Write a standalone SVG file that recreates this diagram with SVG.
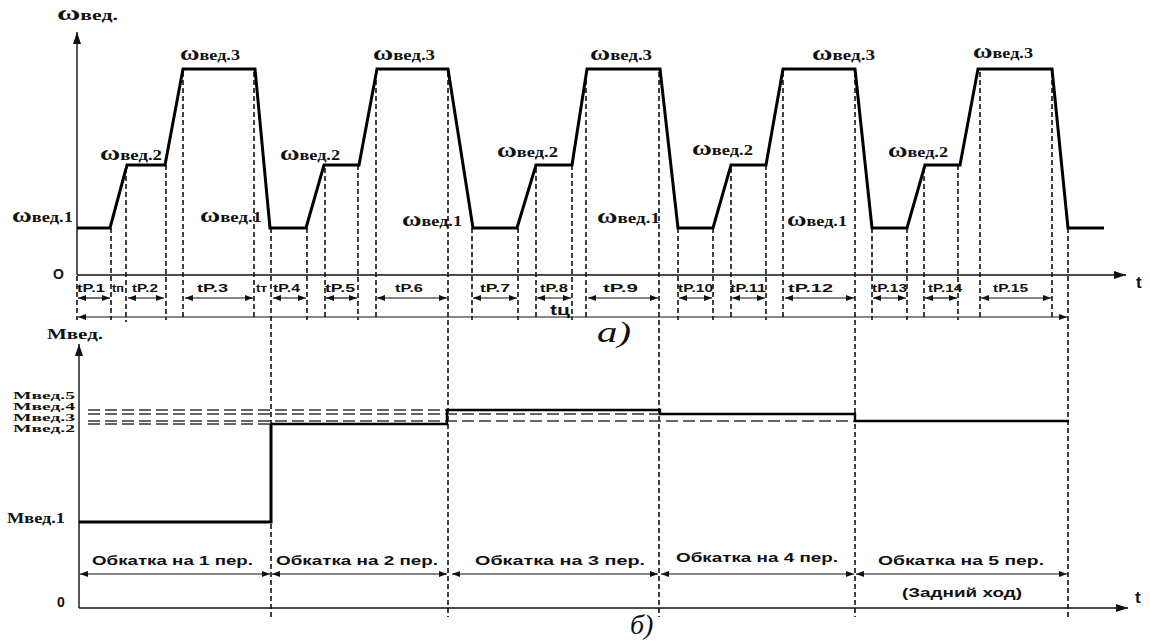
<svg xmlns="http://www.w3.org/2000/svg" width="1150" height="644" viewBox="0 0 1150 644">
<defs>
<marker id="ah" viewBox="0 0 8 6" refX="8" refY="3" markerWidth="8" markerHeight="6" markerUnits="userSpaceOnUse" orient="auto-start-reverse"><path d="M0,0 L8,3 L0,6 z" fill="#111"/></marker>
<marker id="ax" viewBox="0 0 12 8" refX="12" refY="4" markerWidth="12" markerHeight="8" markerUnits="userSpaceOnUse" orient="auto"><path d="M0,0 L12,4 L0,8 z" fill="#111"/></marker>
</defs>
<style>
.axis{stroke:#111;stroke-width:1.4;fill:none}
.curve{stroke:#000;stroke-width:3;fill:none;stroke-linejoin:miter}
.mc{stroke:#000;stroke-width:2.4;fill:none}
.vd{stroke:#111;stroke-width:1.6;stroke-dasharray:5 3;fill:none}
.hd{stroke:#333;stroke-width:1.3;stroke-dasharray:12 5;fill:none}
.dim{stroke:#111;stroke-width:1.2;fill:none;marker-start:url(#ah);marker-end:url(#ah)}
.w{font-family:"Liberation Serif","DejaVu Serif",serif;font-weight:bold;fill:#111}
.s{font-family:"Liberation Sans","DejaVu Sans",sans-serif;font-weight:bold;fill:#111}
.it{font-family:"Liberation Serif","DejaVu Serif",serif;font-style:italic;fill:#111}
</style>

<g id="axes">
<line class="axis" x1="77" y1="275" x2="77" y2="32" marker-end="url(#ax)"/>
<line class="axis" x1="77" y1="275" x2="1126" y2="275" marker-end="url(#ax)"/>
<line class="axis" x1="79" y1="608" x2="79" y2="344" marker-end="url(#ax)"/>
<line class="axis" x1="79" y1="608" x2="1128" y2="608" marker-end="url(#ax)"/>
</g>

<g id="connectors">
<g id="dashed-verticals">
<line class="vd" x1="77" y1="276" x2="77" y2="320"/>
<line class="vd" x1="111" y1="228" x2="111" y2="320"/>
<line class="vd" x1="126" y1="168" x2="126" y2="322"/>
<line class="vd" x1="166" y1="165" x2="166" y2="320"/>
<line class="vd" x1="183" y1="72" x2="183" y2="320"/>
<line class="vd" x1="254" y1="72" x2="254" y2="320"/>
<line class="vd" x1="271" y1="228" x2="271" y2="617"/>
<line class="vd" x1="307" y1="228" x2="307" y2="320"/>
<line class="vd" x1="325" y1="168" x2="325" y2="320"/>
<line class="vd" x1="358" y1="165" x2="358" y2="320"/>
<line class="vd" x1="376" y1="72" x2="376" y2="320"/>
<line class="vd" x1="448" y1="72" x2="448" y2="617"/>
<line class="vd" x1="472" y1="228" x2="472" y2="320"/>
<line class="vd" x1="518" y1="228" x2="518" y2="320"/>
<line class="vd" x1="536" y1="168" x2="536" y2="320"/>
<line class="vd" x1="572" y1="165" x2="572" y2="320"/>
<line class="vd" x1="586" y1="72" x2="586" y2="320"/>
<line class="vd" x1="659" y1="72" x2="659" y2="617"/>
<line class="vd" x1="678" y1="228" x2="678" y2="320"/>
<line class="vd" x1="713" y1="228" x2="713" y2="320"/>
<line class="vd" x1="731" y1="168" x2="731" y2="320"/>
<line class="vd" x1="766" y1="165" x2="766" y2="320"/>
<line class="vd" x1="783" y1="72" x2="783" y2="320"/>
<line class="vd" x1="855" y1="72" x2="855" y2="617"/>
<line class="vd" x1="872" y1="228" x2="872" y2="320"/>
<line class="vd" x1="907" y1="228" x2="907" y2="320"/>
<line class="vd" x1="924" y1="168" x2="924" y2="320"/>
<line class="vd" x1="958" y1="165" x2="958" y2="320"/>
<line class="vd" x1="980" y1="72" x2="980" y2="320"/>
<line class="vd" x1="1052" y1="72" x2="1052" y2="320"/>
<line class="vd" x1="1068" y1="228" x2="1068" y2="617"/>
</g>
<g id="dashed-levels">
<line class="hd" x1="88" y1="410" x2="447" y2="410"/>
<line class="hd" x1="88" y1="414" x2="660" y2="414"/>
<line class="hd" x1="88" y1="421" x2="855" y2="421"/>
<line class="hd" x1="88" y1="424" x2="271" y2="424"/>
</g>
<g id="dims">
<line class="dim" x1="78" y1="298" x2="110" y2="298"/>
<line class="dim" x1="128" y1="298" x2="164" y2="298"/>
<line class="dim" x1="185" y1="298" x2="253" y2="298"/>
<line class="dim" x1="273" y1="298" x2="306" y2="298"/>
<line class="dim" x1="326" y1="298" x2="357" y2="298"/>
<line class="dim" x1="377" y1="298" x2="447" y2="298"/>
<line class="dim" x1="473" y1="298" x2="517" y2="298"/>
<line class="dim" x1="537" y1="298" x2="571" y2="298"/>
<line class="dim" x1="588" y1="298" x2="658" y2="298"/>
<line class="dim" x1="679" y1="298" x2="712" y2="298"/>
<line class="dim" x1="732" y1="298" x2="765" y2="298"/>
<line class="dim" x1="785" y1="298" x2="854" y2="298"/>
<line class="dim" x1="873" y1="298" x2="906" y2="298"/>
<line class="dim" x1="925" y1="298" x2="957" y2="298"/>
<line class="dim" x1="981" y1="298" x2="1051" y2="298"/>
<line class="dim" x1="78" y1="317" x2="1067" y2="317"/>
<line class="dim" x1="80" y1="574" x2="270" y2="574"/>
<line class="dim" x1="272" y1="574" x2="447" y2="574"/>
<line class="dim" x1="452" y1="574" x2="658" y2="574"/>
<line class="dim" x1="661" y1="574" x2="854" y2="574"/>
<line class="dim" x1="856" y1="574" x2="1067" y2="574"/>
</g>
</g>

<g id="omega-curve">
<path class="curve" d="M77,228 L110,228 L127,165 L165,165 L183,69 L255,69 L270,228 L306,228 L324,165 L359,165 L377,69 L448,69 L473,228 L517,228 L536,165 L572,165 L587,69 L660,69 L678,228 L713,228 L731,165 L766,165 L783,69 L855,69 L872,228 L907,228 L925,165 L960,165 L978,69 L1052,69 L1068,228 L1104,228"/>
</g>

<g id="moment-curve">
<path class="curve" d="M79,522 L271,522 L271,424"/>
<path class="mc" d="M271,424 L447,424 L447,410 L660,410 L660,414 L855,414 L855,421 L1069,421"/>
</g>

<g id="omega-labels">
<text class="w" x="57" y="20" textLength="61" lengthAdjust="spacingAndGlyphs"><tspan font-size="22">ω</tspan><tspan font-size="15">вед.</tspan></text>
<text class="w" x="180" y="60" textLength="60" lengthAdjust="spacingAndGlyphs"><tspan font-size="22">ω</tspan><tspan font-size="15">вед.3</tspan></text>
<text class="w" x="373" y="60" textLength="62" lengthAdjust="spacingAndGlyphs"><tspan font-size="22">ω</tspan><tspan font-size="15">вед.3</tspan></text>
<text class="w" x="590" y="60" textLength="62" lengthAdjust="spacingAndGlyphs"><tspan font-size="22">ω</tspan><tspan font-size="15">вед.3</tspan></text>
<text class="w" x="812" y="60" textLength="63" lengthAdjust="spacingAndGlyphs"><tspan font-size="22">ω</tspan><tspan font-size="15">вед.3</tspan></text>
<text class="w" x="973" y="58" textLength="60" lengthAdjust="spacingAndGlyphs"><tspan font-size="22">ω</tspan><tspan font-size="15">вед.3</tspan></text>
<text class="w" x="100" y="160" textLength="62" lengthAdjust="spacingAndGlyphs"><tspan font-size="22">ω</tspan><tspan font-size="15">вед.2</tspan></text>
<text class="w" x="280" y="160" textLength="60" lengthAdjust="spacingAndGlyphs"><tspan font-size="22">ω</tspan><tspan font-size="15">вед.2</tspan></text>
<text class="w" x="497" y="157" textLength="61" lengthAdjust="spacingAndGlyphs"><tspan font-size="22">ω</tspan><tspan font-size="15">вед.2</tspan></text>
<text class="w" x="692" y="155" textLength="61" lengthAdjust="spacingAndGlyphs"><tspan font-size="22">ω</tspan><tspan font-size="15">вед.2</tspan></text>
<text class="w" x="888" y="157" textLength="60" lengthAdjust="spacingAndGlyphs"><tspan font-size="22">ω</tspan><tspan font-size="15">вед.2</tspan></text>
<text class="w" x="12" y="222" textLength="61" lengthAdjust="spacingAndGlyphs"><tspan font-size="22">ω</tspan><tspan font-size="15">вед.1</tspan></text>
<text class="w" x="200" y="222" textLength="62" lengthAdjust="spacingAndGlyphs"><tspan font-size="22">ω</tspan><tspan font-size="15">вед.1</tspan></text>
<text class="w" x="402" y="226" textLength="60" lengthAdjust="spacingAndGlyphs"><tspan font-size="22">ω</tspan><tspan font-size="15">вед.1</tspan></text>
<text class="w" x="597" y="223" textLength="63" lengthAdjust="spacingAndGlyphs"><tspan font-size="22">ω</tspan><tspan font-size="15">вед.1</tspan></text>
<text class="w" x="787" y="226" textLength="60" lengthAdjust="spacingAndGlyphs"><tspan font-size="22">ω</tspan><tspan font-size="15">вед.1</tspan></text>
</g>

<g id="time-labels" class="s" font-size="11">
<text x="77" y="292" textLength="28" lengthAdjust="spacingAndGlyphs">tP.1</text>
<text x="112" y="292" textLength="12" lengthAdjust="spacingAndGlyphs">tп</text>
<text x="132" y="292" textLength="26" lengthAdjust="spacingAndGlyphs">tP.2</text>
<text x="197" y="292" textLength="31" lengthAdjust="spacingAndGlyphs">tP.3</text>
<text x="256" y="292" textLength="11" lengthAdjust="spacingAndGlyphs">tт</text>
<text x="273" y="292" textLength="27" lengthAdjust="spacingAndGlyphs">tP.4</text>
<text x="325" y="292" textLength="30" lengthAdjust="spacingAndGlyphs">tP.5</text>
<text x="395" y="292" textLength="28" lengthAdjust="spacingAndGlyphs">tP.6</text>
<text x="480" y="292" textLength="30" lengthAdjust="spacingAndGlyphs">tP.7</text>
<text x="540" y="292" textLength="28" lengthAdjust="spacingAndGlyphs">tP.8</text>
<text x="603" y="292" textLength="35" lengthAdjust="spacingAndGlyphs">tP.9</text>
<text x="678" y="292" textLength="35" lengthAdjust="spacingAndGlyphs">tP.10</text>
<text x="730" y="292" textLength="36" lengthAdjust="spacingAndGlyphs">tP.11</text>
<text x="788" y="292" textLength="45" lengthAdjust="spacingAndGlyphs">tP.12</text>
<text x="872" y="292" textLength="35" lengthAdjust="spacingAndGlyphs">tP.13</text>
<text x="928" y="292" textLength="34" lengthAdjust="spacingAndGlyphs">tP.14</text>
<text x="993" y="292" textLength="35" lengthAdjust="spacingAndGlyphs">tP.15</text>
<text x="550" y="315" font-size="15" textLength="20" lengthAdjust="spacingAndGlyphs">tц</text>
</g>

<g id="axis-labels">
<text class="s" x="53" y="279" font-size="14">O</text>
<text class="s" x="1136" y="288" font-size="17">t</text>
<text class="s" x="57" y="607" font-size="14">0</text>
<text class="s" x="1135" y="603" font-size="17">t</text>
<text class="it" x="597" y="342" font-size="30" textLength="34" lengthAdjust="spacingAndGlyphs">а)</text>
<text class="it" x="630" y="634" font-size="28">б)</text>
</g>

<g id="moment-labels" class="w">
<text x="47" y="339" font-size="14" textLength="56" lengthAdjust="spacingAndGlyphs">Мвед.</text>
<text x="13" y="399" font-size="11" textLength="62" lengthAdjust="spacingAndGlyphs">Мвед.5</text>
<text x="13" y="410" font-size="11" textLength="62" lengthAdjust="spacingAndGlyphs">Мвед.4</text>
<text x="13" y="421" font-size="11" textLength="62" lengthAdjust="spacingAndGlyphs">Мвед.3</text>
<text x="13" y="432" font-size="11" textLength="62" lengthAdjust="spacingAndGlyphs">Мвед.2</text>
<text x="7" y="523" font-size="14" textLength="58" lengthAdjust="spacingAndGlyphs">Мвед.1</text>
</g>

<g id="period-labels" class="s" font-size="13">
<text x="92" y="565" textLength="161" lengthAdjust="spacingAndGlyphs">Обкатка на 1 пер.</text>
<text x="276" y="565" textLength="162" lengthAdjust="spacingAndGlyphs">Обкатка на 2 пер.</text>
<text x="475" y="565" textLength="170" lengthAdjust="spacingAndGlyphs">Обкатка на 3 пер.</text>
<text x="676" y="562" textLength="162" lengthAdjust="spacingAndGlyphs">Обкатка на 4 пер.</text>
<text x="878" y="565" textLength="166" lengthAdjust="spacingAndGlyphs">Обкатка на 5 пер.</text>
<text x="902" y="597" textLength="120" lengthAdjust="spacingAndGlyphs">(Задний ход)</text>
</g>
</svg>
